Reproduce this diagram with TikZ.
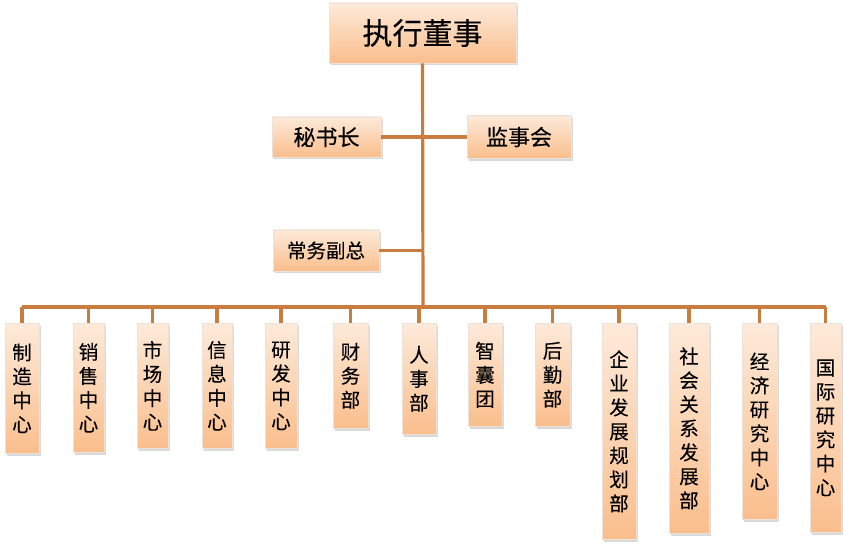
\documentclass[tikz,border=0pt]{standalone}
\usepackage{fontspec}
\newfontfamily\cjk[FakeBold=0.2]{Noto Sans CJK SC}
\usepackage{tikz}
\usetikzlibrary{positioning,shapes,shadows}
\definecolor{linec}{RGB}{200,125,62}
\definecolor{boxtop}{RGB}{253,234,218}
\definecolor{boxbot}{RGB}{250,190,140}
\definecolor{boxline}{RGB}{236,226,216}

\begin{document}
\begin{tikzpicture}[
  x=1pt, y=-1pt,
  mybox/.style={draw=boxline, line width=0.6pt, rectangle, top color=boxtop,
    bottom color=boxbot, inner sep=0pt, align=center,
    drop shadow={shadow xshift=1.5pt, shadow yshift=-2.5pt, opacity=0.3}},
  myvbox/.style={mybox, anchor=north, font=\cjk\fontsize{19.5}{24}\selectfont},
  link/.style={draw=linec, line width=3.2pt}
]
\useasboundingbox (0,0) rectangle (844,556);
% top part
\node[mybox, minimum width=187pt, minimum height=60pt, font=\cjk\fontsize{30}{34}\selectfont] (ceo) at (422.5,33) {执行董事};
\node[mybox, minimum width=109pt, minimum height=40pt, font=\cjk\fontsize{22}{24}\selectfont] (sec) at (326.5,137) {秘书长};
\node[mybox, minimum width=104pt, minimum height=43pt, font=\cjk\fontsize{22}{24}\selectfont] (sup) at (519,137) {监事会};
\node[mybox, minimum width=106pt, minimum height=41pt, font=\cjk\fontsize{19.5}{24}\selectfont] (vp) at (326,250.5) {常务副总};
\coordinate (bus) at (423,307);
% departments
\node[myvbox, minimum width=34pt, minimum height=130pt] (d1) at (22,323) {制\\造\\中\\心};
\node[myvbox, minimum width=31pt, minimum height=129pt] (d2) at (88.5,323) {销\\售\\中\\心};
\node[myvbox, minimum width=31pt, minimum height=125pt] (d3) at (152.5,323) {市\\场\\中\\心};
\node[myvbox, minimum width=30pt, minimum height=125pt] (d4) at (217,323) {信\\息\\中\\心};
\node[myvbox, minimum width=32pt, minimum height=125pt] (d5) at (281,323) {研\\发\\中\\心};
\node[myvbox, minimum width=35pt, minimum height=105pt] (d6) at (350.5,323) {财\\务\\部};
\node[myvbox, minimum width=34pt, minimum height=111pt] (d7) at (419,323) {人\\事\\部};
\node[myvbox, minimum width=34pt, minimum height=103pt] (d8) at (485,323) {智\\囊\\团};
\node[myvbox, minimum width=35pt, minimum height=103pt] (d9) at (552.5,323) {后\\勤\\部};
\node[myvbox, minimum width=34pt, minimum height=216pt] (d10) at (619,323) {企\\业\\发\\展\\规\\划\\部};
\node[myvbox, minimum width=40pt, minimum height=210pt] (d11) at (689,323) {社\\会\\关\\系\\发\\展\\部};
\node[myvbox, minimum width=35pt, minimum height=196pt] (d12) at (759.5,323) {经\\济\\研\\究\\中\\心};
\node[myvbox, minimum width=31pt, minimum height=209pt] (d13) at (825.5,323) {国\\际\\研\\究\\中\\心};
% connectors
\draw[link] (ceo.south) -- (bus);
\draw[link] (sec.east) -- (sec.east -| sup.west);
\draw[link] (vp.east) -- (vp.east -| bus);
\draw[link] (d1.north |- bus) -- (d13.north |- bus);
\foreach \d in {d1,d2,d3,d4,d5,d6,d7,d8,d9,d10,d11,d12,d13}
  \draw[link] (\d.north |- bus) -- (\d.north);
\end{tikzpicture}
\end{document}
